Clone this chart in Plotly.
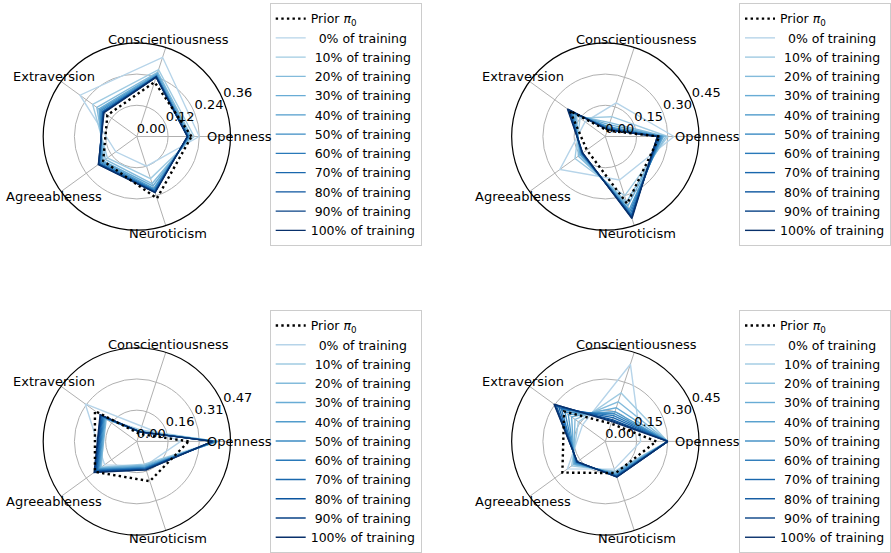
import math
import plotly.graph_objects as go
from plotly.colors import sample_colorscale

categories = ["Openness", "Conscientiousness", "Extraversion", "Agreeableness", "Neuroticism"]
series_names = ["0%", "10%", "20%", "30%", "40%", "50%", "60%", "70%", "80%", "90%", "100%"]

# Panel 1 (top-left)
p1_ticks = [0.0, 0.12, 0.24, 0.36]
p1_ticklabels = ["0.00", "0.12", "0.24", "0.36"]
p1_prior = [0.21, 0.22, 0.14, 0.16, 0.25]
p1_series = [
    [0.24, 0.32, 0.27, 0.10, 0.12],
    [0.22, 0.27, 0.21, 0.14, 0.17],
    [0.21, 0.26, 0.19, 0.15, 0.19],
    [0.205, 0.255, 0.18, 0.16, 0.20],
    [0.20, 0.25, 0.175, 0.165, 0.21],
    [0.20, 0.245, 0.17, 0.17, 0.215],
    [0.198, 0.245, 0.165, 0.175, 0.218],
    [0.196, 0.242, 0.162, 0.178, 0.222],
    [0.195, 0.241, 0.16, 0.18, 0.224],
    [0.194, 0.24, 0.158, 0.182, 0.226],
    [0.194, 0.24, 0.156, 0.183, 0.227],
]

# Panel 2 (top-right)
p2_ticks = [0.0, 0.15, 0.30, 0.45]
p2_ticklabels = ["0.00", "0.15", "0.30", "0.45"]
p2_prior = [0.26, 0.03, 0.21, 0.11, 0.34]
p2_series = [
    [0.33, 0.17, 0.12, 0.27, 0.22],
    [0.30, 0.10, 0.15, 0.18, 0.30],
    [0.29, 0.07, 0.17, 0.16, 0.33],
    [0.28, 0.06, 0.18, 0.15, 0.35],
    [0.275, 0.05, 0.19, 0.145, 0.37],
    [0.27, 0.045, 0.20, 0.14, 0.38],
    [0.265, 0.04, 0.205, 0.14, 0.39],
    [0.26, 0.04, 0.21, 0.138, 0.40],
    [0.255, 0.035, 0.215, 0.136, 0.405],
    [0.25, 0.035, 0.22, 0.135, 0.41],
    [0.25, 0.035, 0.225, 0.135, 0.414],
]

# Panel 3 (bottom-left)
p3_ticks = [0.0, 0.1567, 0.3133, 0.47]
p3_ticklabels = ["0.00", "0.16", "0.31", "0.47"]
p3_prior = [0.26, 0.04, 0.26, 0.26, 0.21]
p3_series = [
    [0.22, 0.08, 0.32, 0.20, 0.13],
    [0.40, 0.06, 0.20, 0.22, 0.12],
    [0.41, 0.055, 0.19, 0.225, 0.125],
    [0.405, 0.05, 0.195, 0.23, 0.13],
    [0.40, 0.05, 0.20, 0.235, 0.135],
    [0.395, 0.05, 0.205, 0.24, 0.14],
    [0.39, 0.05, 0.21, 0.245, 0.14],
    [0.385, 0.05, 0.215, 0.25, 0.145],
    [0.38, 0.05, 0.22, 0.255, 0.145],
    [0.38, 0.05, 0.225, 0.26, 0.15],
    [0.38, 0.05, 0.228, 0.265, 0.15],
]

# Panel 4 (bottom-right)
p4_ticks = [0.0, 0.15, 0.30, 0.45]
p4_ticklabels = ["0.00", "0.15", "0.30", "0.45"]
p4_prior = [0.245, 0.09, 0.245, 0.255, 0.16]
p4_series = [
    [0.17, 0.39, 0.135, 0.225, 0.14],
    [0.30, 0.245, 0.16, 0.20, 0.15],
    [0.30, 0.20, 0.18, 0.19, 0.155],
    [0.30, 0.17, 0.20, 0.185, 0.16],
    [0.30, 0.15, 0.22, 0.18, 0.165],
    [0.30, 0.14, 0.24, 0.175, 0.17],
    [0.30, 0.13, 0.26, 0.172, 0.172],
    [0.30, 0.12, 0.275, 0.17, 0.175],
    [0.30, 0.11, 0.29, 0.168, 0.178],
    [0.30, 0.105, 0.30, 0.167, 0.18],
    [0.30, 0.10, 0.305, 0.166, 0.18],
]

W, H = 891, 553
FONT = "DejaVu Sans"
n = len(categories)
angles = [i * 360.0 / n for i in range(n)]
colors = sample_colorscale("Blues", [0.3 + 0.7 * i / (len(series_names) - 1) for i in range(len(series_names))])

panels = [
    (p1_ticks, p1_ticklabels, p1_prior, p1_series),
    (p2_ticks, p2_ticklabels, p2_prior, p2_series),
    (p3_ticks, p3_ticklabels, p3_prior, p3_series),
    (p4_ticks, p4_ticklabels, p4_prior, p4_series),
]
# pixel layout: polar centres / radius, legend top-left corners
centers = [(137, 137), (606, 137), (137, 443), (606, 443)]
R = 94
LABEL_R = 1.09
legend_pos = [(270, 3), (740, 3), (270, 311), (740, 311)]

fig = go.Figure()
layout = dict(width=W, height=H, margin=dict(l=0, r=0, t=0, b=0),
              paper_bgcolor="white", plot_bgcolor="white",
              font=dict(family=FONT, size=13, color="black"))
annotations = []

for k, (ticks, ticklabels, prior, series) in enumerate(panels):
    pname = "polar" if k == 0 else f"polar{k+1}"
    lname = "legend" if k == 0 else f"legend{k+1}"
    rmax = ticks[-1]
    cx, cy = centers[k]
    layout[pname] = dict(
        domain=dict(x=[(cx - R) / W, (cx + R) / W], y=[1 - (cy + R) / H, 1 - (cy - R) / H]),
        bgcolor="white",
        radialaxis=dict(range=[0, rmax], tickmode="array", tickvals=ticks, showticklabels=False,
                        ticks="", showline=False, gridcolor="#b0b0b0", gridwidth=1),
        angularaxis=dict(type="linear", thetaunit="degrees", rotation=0, direction="counterclockwise",
                         tickmode="array", tickvals=angles, showticklabels=False, ticks="",
                         showline=True, linecolor="black", linewidth=1.2,
                         gridcolor="#b0b0b0", gridwidth=1),
    )
    lx, ly = legend_pos[k]
    layout[lname] = dict(x=lx / W, y=1 - ly / H, xanchor="left", yanchor="top",
                         bgcolor="rgba(255,255,255,0.8)", bordercolor="#cccccc", borderwidth=1,
                         font=dict(family=FONT, size=12.5, color="black"),
                         tracegroupgap=0, itemwidth=30)
    for i, vals in enumerate(series):
        fig.add_trace(go.Scatterpolar(
            r=vals + [vals[0]], theta=angles + [angles[0]], mode="lines",
            line=dict(color=colors[i], width=1.4),
            name=f"{series_names[i]:>4} of training".replace(" ", "\u00a0"),
            subplot=pname, legend=lname, legendrank=10 + i, hoverinfo="skip"))
    fig.add_trace(go.Scatterpolar(
        r=prior + [prior[0]], theta=angles + [angles[0]], mode="lines",
        line=dict(color="black", width=2.4, dash="2.4px,3.2px"),
        name="Prior <i>π</i><sub>0</sub>", subplot=pname, legend=lname, legendrank=1,
        hoverinfo="skip"))
    # radial tick labels
    fig.add_trace(go.Scatterpolar(
        r=ticks, theta=[22.5] * len(ticks), mode="text", text=ticklabels,
        textposition="top right", textfont=dict(family=FONT, size=13, color="black"),
        cliponaxis=False, showlegend=False, subplot=pname, hoverinfo="skip"))
    # category labels just outside the circle
    for a, name in zip(angles, categories):
        px = cx + R * LABEL_R * math.cos(math.radians(a))
        py = cy - R * LABEL_R * math.sin(math.radians(a))
        annotations.append(dict(x=px / W, y=1 - py / H, xref="paper", yref="paper",
                                text=name, showarrow=False, xanchor="center", yanchor="middle",
                                font=dict(family=FONT, size=13, color="black")))

layout["annotations"] = annotations
fig.update_layout(**layout)
fig.write_html("out.html", config={"displayModeBar": False},
               post_script="document.body.style.margin='0';")
